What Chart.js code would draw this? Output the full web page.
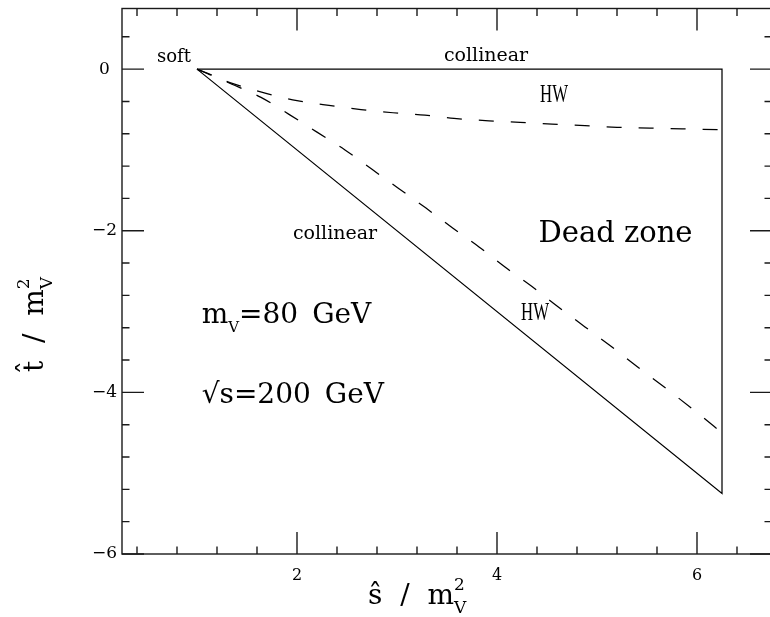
<!DOCTYPE html>
<html>
<head>
<meta charset="utf-8">
<title>Dead zone</title>
<script src="https://cdn.jsdelivr.net/npm/chart.js@4.4.0/dist/chart.umd.min.js"></script>
<style>
  html, body { margin: 0; padding: 0; background: #fff; overflow: hidden; }
  #wrap { width: 770px; height: 617px; overflow: hidden; }
</style>
</head>
<body>
<div id="wrap"><canvas id="myChart" width="800" height="617"></canvas></div>
<script>
// phase space edges, s = shat/mV^2, t = that/mV^2 (soft point at s=1)
const triS = [1, 6.25, 6.25, 1];
const triT = [0, 0, -5.25, 0];

// HW boundaries (dashed)
const hwUpperS = [1, 1.15, 1.36, 1.69, 2.0, 2.32, 2.64, 2.96, 3.28, 3.57, 3.92, 4.23, 4.55, 4.88, 5.2, 5.53, 5.85, 6.25];
const hwUpperT = [0, -0.08, -0.18, -0.3, -0.39, -0.45, -0.5, -0.54, -0.57, -0.61, -0.64, -0.66, -0.68, -0.7, -0.72, -0.73, -0.74, -0.75];
const hwLowerS = [1, 1.15, 1.3, 1.64, 1.92, 2.2, 2.48, 2.75, 3.02, 3.29, 3.56, 3.82, 4.08, 4.35, 4.61, 4.88, 5.14, 5.4, 5.7, 6.0, 6.25];
const hwLowerT = [0, -0.075, -0.16, -0.35, -0.56, -0.78, -1.0, -1.24, -1.48, -1.72, -1.97, -2.2, -2.45, -2.69, -2.94, -3.19, -3.43, -3.68, -3.96, -4.25, -4.5];

// tick labels
const xMajor = [2, 4, 6];
const xLabels = ["2", "4", "6"];
const yMajor = [0, -2, -4, -6];
const yLabels = ["0", "\u22122", "\u22124", "\u22126"];

// axis ranges
const xMin = 0.25, xMax = 6.75;
const yMin = -6, yMax = 0.75;
const minorStep = 0.4;

// text placed in the plot (data coordinates)
const notes = [
  { text: "soft", s: 0.77, t: 0.15, size: 18 },
  { text: "collinear", s: 3.89, t: 0.16, size: 19 },
  { text: "collinear", s: 2.38, t: -2.04, size: 19 },
  { text: "Dead zone", s: 5.185, t: -2.04, size: 29 },
  { text: "HW", s: 4.57, t: -0.33, size: 25, narrow: true },
  { text: "HW", s: 4.38, t: -3.02, size: 25, narrow: true },
];

const serif = '"DejaVu Serif", serif';
const toPts = (xs, ys) => xs.map((x, i) => ({ x, y: ys[i] }));
const isMajor = (v) => Math.abs(v / 2 - Math.round(v / 2)) < 1e-6;

function makeTicks(min, max) {
  const out = [];
  const k0 = Math.ceil(min / minorStep - 1e-9);
  const k1 = Math.floor(max / minorStep + 1e-9);
  for (let k = k0; k <= k1; k++) out.push({ value: +(k * minorStep).toFixed(6) });
  return out;
}

function labelFor(v, majors, labels) {
  const i = majors.findIndex((m) => Math.abs(m - v) < 1e-6);
  return i >= 0 ? labels[i] : "";
}

// text runs with sub/superscripts
function drawRuns(ctx, x0, y0, runs) {
  let x = x0;
  runs.forEach((r) => {
    ctx.font = r.size + "px " + serif;
    ctx.fillText(r.text, x, y0 + (r.dy || 0));
    if (!r.stack) x += ctx.measureText(r.text).width;
  });
}

// frame with inward ticks on all four sides
const frame = {
  id: "frame",
  afterDatasetsDraw(chart) {
    const { ctx, chartArea: a, scales: { x, y } } = chart;
    ctx.save();
    ctx.strokeStyle = "#1a1a1a";
    ctx.lineWidth = 1.4;
    ctx.strokeRect(a.left, a.top, a.right - a.left, a.bottom - a.top);
    ctx.beginPath();
    x.ticks.forEach((tk) => {
      const px = x.getPixelForValue(tk.value);
      const len = isMajor(tk.value) ? 22 : 7.5;
      ctx.moveTo(px, a.bottom); ctx.lineTo(px, a.bottom - len);
      ctx.moveTo(px, a.top); ctx.lineTo(px, a.top + len);
    });
    y.ticks.forEach((tk) => {
      const py = y.getPixelForValue(tk.value);
      const len = isMajor(tk.value) ? 22 : 7.5;
      ctx.moveTo(a.left, py); ctx.lineTo(a.left + len, py);
      ctx.moveTo(a.right, py); ctx.lineTo(a.right - len, py);
    });
    ctx.stroke();
    ctx.restore();
  },
};

// labels inside the plot and the axis titles
const texts = {
  id: "texts",
  afterDraw(chart) {
    const { ctx, scales: { x, y } } = chart;
    ctx.save();
    ctx.fillStyle = "#000";
    ctx.textAlign = "center";
    ctx.textBaseline = "middle";
    notes.forEach((n) => {
      const px = x.getPixelForValue(n.s);
      const py = y.getPixelForValue(n.t);
      if (n.narrow) {
        ctx.font = n.size + 'px "Liberation Serif", serif';
        ctx.save();
        ctx.translate(px, py);
        ctx.scale(0.67, 1);
        ctx.fillText(n.text, 0, 0);
        ctx.restore();
      } else {
        ctx.font = n.size + "px " + serif;
        ctx.fillText(n.text, px, py);
      }
    });

    ctx.textAlign = "left";
    ctx.textBaseline = "alphabetic";
    const left = x.getPixelForValue(1.047);
    drawRuns(ctx, left, y.getPixelForValue(-3.142), [
      { text: "m", size: 28 },
      { text: "V", size: 15, dy: 9 },
      { text: "=80\u2002GeV", size: 28 },
    ]);
    drawRuns(ctx, left, y.getPixelForValue(-4.132), [
      { text: "\u221As=200\u2002GeV", size: 28 },
    ]);

    drawRuns(ctx, 368, 604, [
      { text: "\u015D  /  m", size: 28 },
      { text: "V", size: 17, dy: 9, stack: true },
      { text: "2", size: 17, dy: -14 },
    ]);

    ctx.save();
    ctx.translate(43, 372);
    ctx.rotate(-Math.PI / 2);
    drawRuns(ctx, 0, 0, [
      { text: "t\u0302  /  m", size: 28 },
      { text: "V", size: 17, dy: 9, stack: true },
      { text: "2", size: 17, dy: -14 },
    ]);
    ctx.restore();
    ctx.restore();
  },
};

const line = (pts, dash) => ({
  data: pts,
  showLine: true,
  borderColor: "#000",
  borderWidth: 1.25,
  borderDash: dash,
  pointRadius: 0,
  fill: false,
  cubicInterpolationMode: dash.length ? "monotone" : "default",
});

// keep tick labels from pushing the plot area around
const noPad = (s) => {
  s.paddingTop = 0;
  s.paddingBottom = 0;
  s.paddingLeft = 0;
  s.paddingRight = 0;
};

const ctx = document.getElementById("myChart").getContext("2d");
const myChart = new Chart(ctx, {
  type: "scatter",
  data: {
    datasets: [
      line(toPts(triS, triT), []),
      line(toPts(hwUpperS, hwUpperT), [15, 17]),
      line(toPts(hwLowerS, hwLowerT), [16, 16.5]),
    ],
  },
  options: {
    responsive: false,
    animation: false,
    events: [],
    layout: { padding: { left: 0, right: 28, top: 8.5, bottom: 0 } },
    plugins: { legend: { display: false }, tooltip: { enabled: false } },
    scales: {
      x: {
        type: "linear",
        min: xMin,
        max: xMax,
        grid: { display: false, drawTicks: false },
        border: { display: false },
        afterBuildTicks: (s) => { s.ticks = makeTicks(xMin, xMax); },
        afterFit: (s) => { s.height = 63; noPad(s); },
        ticks: {
          autoSkip: false,
          maxRotation: 0,
          padding: 12,
          color: "#000",
          font: { family: serif, size: 16 },
          callback: (v) => labelFor(v, xMajor, xLabels),
        },
      },
      y: {
        type: "linear",
        min: yMin,
        max: yMax,
        grid: { display: false, drawTicks: false },
        border: { display: false },
        afterBuildTicks: (s) => { s.ticks = makeTicks(yMin, yMax); },
        afterFit: (s) => { s.width = 122; noPad(s); },
        ticks: {
          autoSkip: false,
          crossAlign: "center",
          padding: 5,
          color: "#000",
          font: { family: serif, size: 17 },
          callback: (v) => labelFor(v, yMajor, yLabels),
        },
      },
    },
  },
  plugins: [frame, texts],
});
</script>
</body>
</html>
